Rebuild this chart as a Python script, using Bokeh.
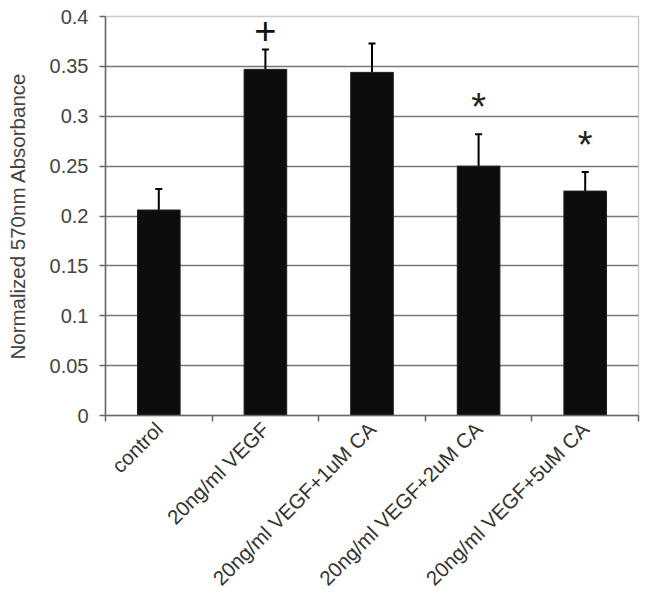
import math
from bokeh.plotting import figure
from bokeh.models import (ColumnDataSource, FixedTicker, CustomJSTickFormatter,
                          Whisker, Range1d)
from bokeh.core.properties import value
from bokeh.embed import file_html
from bokeh.resources import INLINE

categories = ["control", "20ng/ml VEGF", "20ng/ml VEGF+1uM CA",
              "20ng/ml VEGF+2uM CA", "20ng/ml VEGF+5uM CA"]
means = [0.206, 0.347, 0.344, 0.250, 0.225]
errors = [0.021, 0.020, 0.029, 0.032, 0.019]
marks = ["", "+", "", "*", "*"]
y_ticks = [0, 0.05, 0.1, 0.15, 0.2, 0.25, 0.3, 0.35, 0.4]

xs = list(range(len(categories)))
upper = [m + e for m, e in zip(means, errors)]
bounds = [i - 0.5 for i in range(len(categories) + 1)]

src = ColumnDataSource(dict(x=xs, top=means, upper=upper))

p = figure(width=640, height=600, output_backend="svg", toolbar_location=None,
           x_range=Range1d(-0.5, len(categories) - 0.5), y_range=Range1d(0, 0.4),
           min_border_left=105, min_border_right=2, min_border_top=16,
           min_border_bottom=184)
p.outline_line_color = "#cccccc"
p.outline_line_width = 1.5
p.background_fill_color = "white"

p.vbar(x="x", top="top", width=0.4, bottom=0, source=src,
       fill_color="#0d0d0d", line_color="#222222", line_width=1)

w = Whisker(source=src, base="x", lower="top", upper="upper",
            line_color="black", line_width=2)
w.upper_head.size = 7
w.upper_head.line_width = 2
w.upper_head.line_color = "black"
w.lower_head = None
p.add_layout(w)

# significance markers
plus_x = [x for x, m in zip(xs, marks) if m == "+"]
plus_y = [u + 0.019 for u, m in zip(upper, marks) if m == "+"]
star_x = [x for x, m in zip(xs, marks) if m == "*"]
star_y = [u + 0.027 for u, m in zip(upper, marks) if m == "*"]
p.text(x=plus_x, y=plus_y, text=["+"] * len(plus_x), text_align="center",
       text_baseline="middle", text_font=value("Liberation Sans"),
       text_font_size="38px", text_color="#111111")
p.text(x=star_x, y=star_y, text=["*"] * len(star_x), text_align="center",
       text_baseline="middle", text_font=value("Liberation Sans"),
       text_font_size="38px", text_color="#222222")

# axes
p.xaxis.ticker = FixedTicker(ticks=xs, minor_ticks=bounds)
p.xaxis.formatter = CustomJSTickFormatter(args=dict(labels=categories),
                                          code="return labels[Math.round(tick)] || '';")
p.xaxis.major_label_orientation = math.pi / 4
p.xaxis.major_tick_out = 0
p.xaxis.major_tick_in = 0
p.xaxis.minor_tick_out = 6
p.xaxis.minor_tick_in = 0
p.xaxis.minor_tick_line_color = "#666666"
p.xaxis.minor_tick_line_width = 1.5
p.xaxis.axis_line_color = "#666666"
p.xaxis.axis_line_width = 1.5
p.xaxis.major_label_text_font = "Liberation Sans"
p.xaxis.major_label_text_font_size = "20.5px"
p.xaxis.major_label_text_color = "#333333"
p.xaxis.major_label_standoff = 4

p.yaxis.ticker = FixedTicker(ticks=y_ticks)
p.yaxis.formatter = CustomJSTickFormatter(code="return String(Math.round(tick*100)/100);")
p.yaxis.minor_tick_line_color = None
p.yaxis.major_tick_out = 6
p.yaxis.major_tick_in = 0
p.yaxis.major_tick_line_color = "#666666"
p.yaxis.major_tick_line_width = 1.5
p.yaxis.axis_line_color = "#666666"
p.yaxis.axis_line_width = 1.5
p.yaxis.major_label_text_font = "Liberation Sans"
p.yaxis.major_label_text_font_size = "20px"
p.yaxis.major_label_text_color = "#444444"
p.yaxis.major_label_standoff = 11
p.yaxis.axis_label = "Normalized 570nm Absorbance"
p.yaxis.axis_label_text_font = "Liberation Sans"
p.yaxis.axis_label_text_font_size = "20.5px"
p.yaxis.axis_label_text_font_style = "normal"
p.yaxis.axis_label_text_color = "#444444"
p.yaxis.axis_label_standoff = 18

p.xgrid.grid_line_color = None
p.ygrid.ticker = FixedTicker(ticks=y_ticks)
p.ygrid.grid_line_color = "#777777"
p.ygrid.grid_line_width = 1.5

open("out.html", "w").write(file_html(p, INLINE))
